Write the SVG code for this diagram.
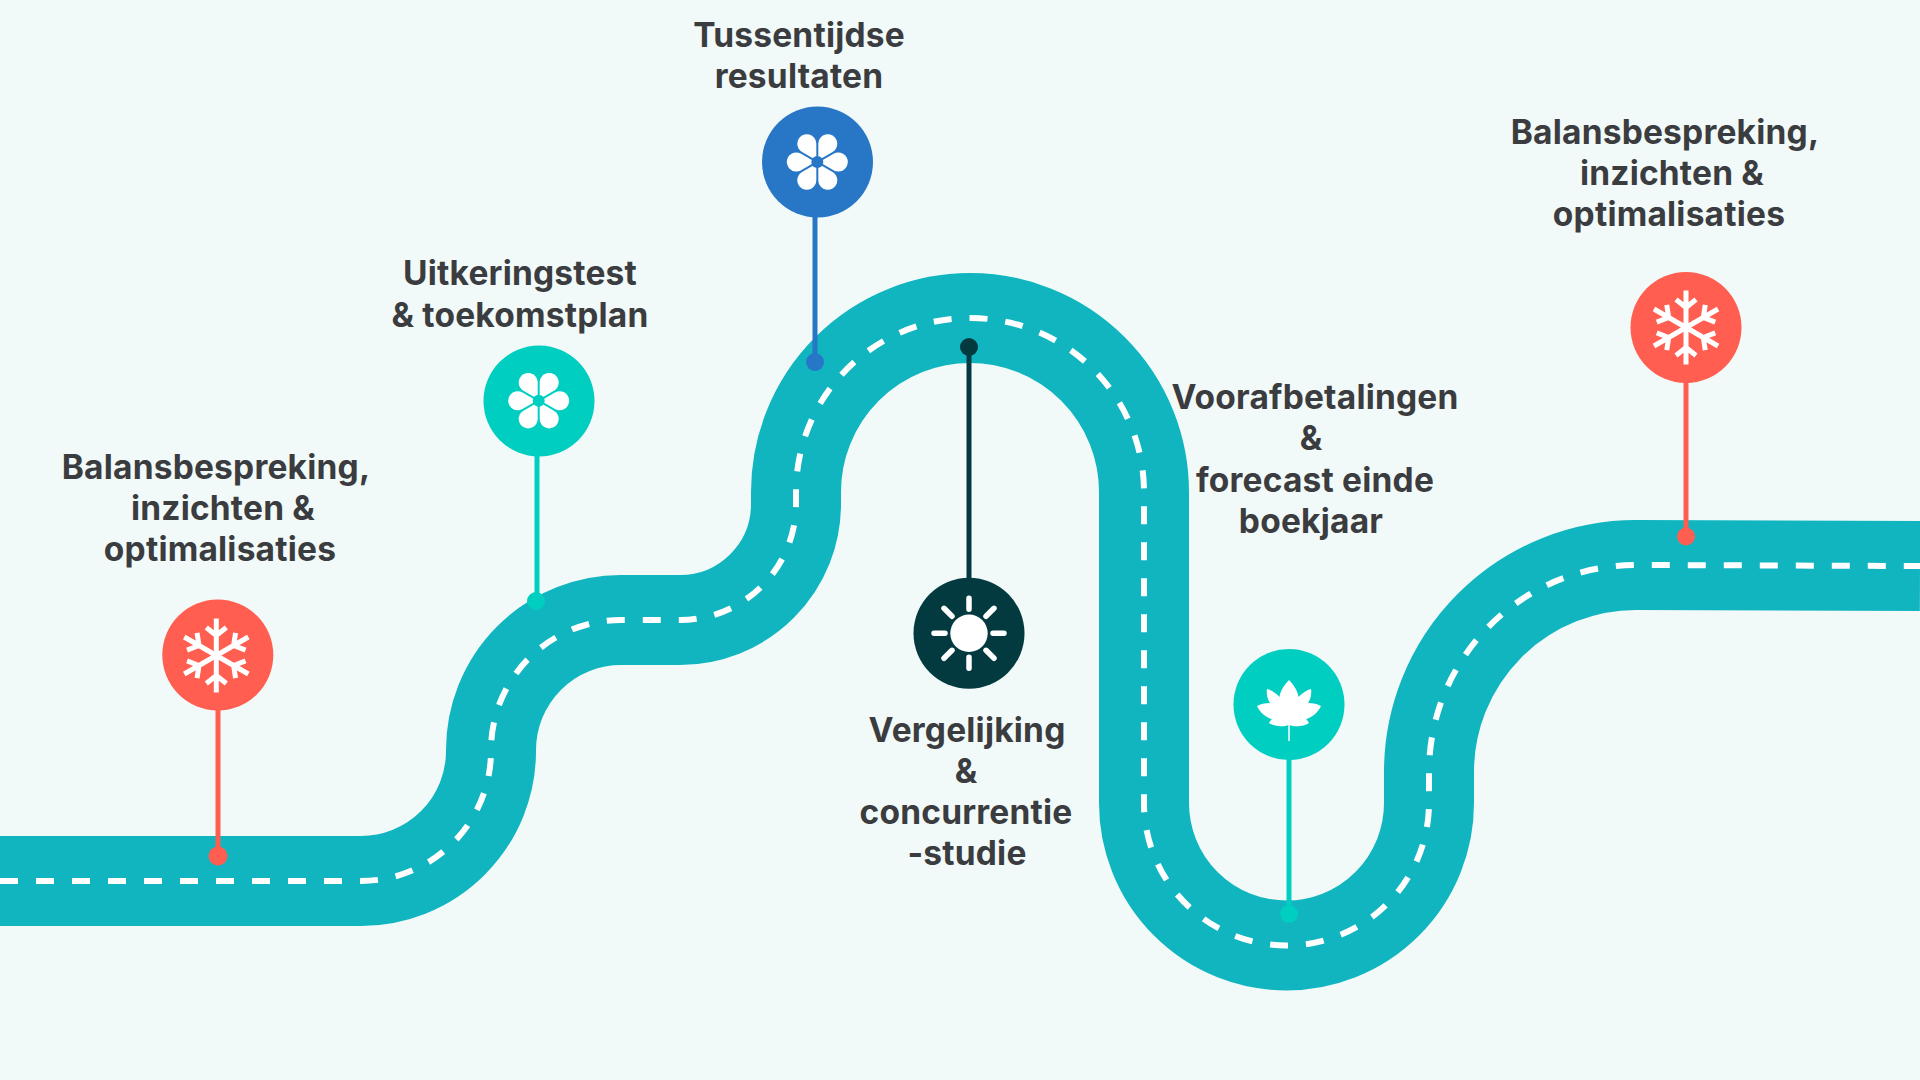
<svg xmlns="http://www.w3.org/2000/svg" width="1920" height="1080" viewBox="0 0 1920 1080">
<style>
text{font-family:"Inter","Liberation Sans",sans-serif;font-weight:700;font-size:33.5px;letter-spacing:.2px;fill:#3b3c40;text-anchor:middle}
.road{fill:none;stroke:#11b5c0;stroke-width:90}
.dash{fill:none;stroke:#fff;stroke-width:6;stroke-dasharray:18 18}
.ic{fill:#fff}
.sn{stroke:#fff;stroke-width:5;fill:none}
.ray{stroke:#fff;stroke-width:5.5;stroke-linecap:round}
.coral{fill:#ff5e50}.teal{fill:#00cec0}.blue{fill:#2777c6}.dark{fill:#023a40}
.lc{stroke:#ff5e50}.lt{stroke:#00cec0}.lb{stroke:#2777c6}.ld{stroke:#023a40}
.stem{stroke-width:5;fill:none}
</style>
<defs>
<g id="arm"><path class="sn" d="M0,0V-37M-10,-28L0,-20L10,-28"/></g>
<g id="snow"><use href="#arm"/><use href="#arm" transform="rotate(60)"/><use href="#arm" transform="rotate(120)"/><use href="#arm" transform="rotate(180)"/><use href="#arm" transform="rotate(240)"/><use href="#arm" transform="rotate(300)"/></g>
<path id="petal" class="ic" d="M2,0L16.25,-8.23A9.5,9.5 0 1 1 16.25,8.23Z"/>
<g id="flower"><use href="#petal"/><use href="#petal" transform="rotate(60)"/><use href="#petal" transform="rotate(120)"/><use href="#petal" transform="rotate(180)"/><use href="#petal" transform="rotate(240)"/><use href="#petal" transform="rotate(300)"/></g>
</defs>
<rect width="1920" height="1080" fill="#f1faf8"/>
<g id="road">
<path id="roadbed" class="road" d="M0,881H361A130,130 0 0 0 491,751V750A130,130 0 0 1 621,620H680A116,116 0 0 0 796,504V492A174,174 0 0 1 1144,492V803A142.5,142.5 0 0 0 1429,803V772A207,207 0 0 1 1636,565L1920,566"/>
<path id="roadline" class="dash" d="M0,881H361A130,130 0 0 0 491,751V750A130,130 0 0 1 621,620H680A116,116 0 0 0 796,504V492A174,174 0 0 1 1144,492V803A142.5,142.5 0 0 0 1429,803V772A207,207 0 0 1 1636,565L1920,566"/>
</g>
<g id="connectors">
<path class="stem lc" d="M218,700V856"/><circle class="coral" cx="218" cy="856" r="9.5"/>
<path class="stem lt" d="M537,450V601"/><circle class="teal" cx="536" cy="601" r="9"/>
<path class="stem lb" d="M815,210V362"/><circle class="blue" cx="815" cy="362" r="9"/>
<path class="stem ld" d="M969,347V585"/><circle class="dark" cx="969" cy="347" r="9"/>
<path class="stem lt" d="M1289,750V914"/><circle class="teal" cx="1289" cy="914" r="9"/>
<path class="stem lc" d="M1686,380V536"/><circle class="coral" cx="1686" cy="536.5" r="9"/>
</g>
<g id="node-1">
<circle class="coral" cx="217.8" cy="655" r="55.5"/>
<use href="#snow" transform="translate(216.3,655.5)"/>
<text x="216" y="479">Balansbespreking,</text><text x="223" y="520">inzichten &amp;</text><text x="220" y="561">optimalisaties</text>
</g>
<g id="node-2">
<circle class="teal" cx="539" cy="401" r="55.5"/>
<use href="#flower" transform="translate(538.7,400.7)"/><circle class="teal" cx="538.7" cy="400.7" r="6"/>
<text x="520" y="285">Uitkeringstest</text><text x="520" y="327">&amp; toekomstplan</text>
</g>
<g id="node-3">
<circle class="blue" cx="817.5" cy="162" r="55.5"/>
<use href="#flower" transform="translate(817.3,162)"/><circle class="blue" cx="817.3" cy="162" r="6"/>
<text x="799" y="47">Tussentijdse</text><text x="799" y="88">resultaten</text>
</g>
<g id="node-4">
<circle class="dark" cx="969" cy="633.3" r="55.5"/>
<circle class="ic" cx="969" cy="633.3" r="18.7"/>
<g transform="translate(969,633.3)"><path class="ray" d="M0,-24V-35M0,24V35M-24,0H-35M24,0H35M-17,-17L-25,-25M17,-17L25,-25M-17,17L-25,25M17,17L25,25"/></g>
<text x="967" y="742">Vergelijking</text><text x="966" y="783">&amp;</text><text x="966" y="824">concurrentie</text><text x="967" y="865">-studie</text>
</g>
<g id="node-5">
<circle class="teal" cx="1289" cy="704.5" r="55.5"/>
<g transform="translate(1289,705)"><path class="ic" d="M0,-25C4,-21 9,-14 9.5,-8C13,-12 18,-15 22,-16C23,-10 21,-5 19,-2C24,-2 29,-1 32,1C29,8 22,13 17,14C18,15 19,16 20,18C14,22 6,22 0,20C-6,22 -14,22 -20,18C-19,16 -18,15 -17,14C-22,13 -29,8 -32,1C-29,-1 -24,-2 -19,-2C-21,-5 -23,-10 -22,-16C-18,-15 -13,-12 -9.5,-8C-9,-14 -4,-21 0,-25Z"/><path d="M0,20V36" stroke="#fff" stroke-width="1.5"/></g>
<text x="1315" y="409">Voorafbetalingen</text><text x="1311" y="450">&amp;</text><text x="1315" y="492">forecast einde</text><text x="1311" y="533">boekjaar</text>
</g>
<g id="node-6">
<circle class="coral" cx="1686" cy="327.5" r="55.5"/>
<use href="#snow" transform="translate(1686,327.5)"/>
<text x="1665" y="144">Balansbespreking,</text><text x="1672" y="185">inzichten &amp;</text><text x="1669" y="226">optimalisaties</text>
</g>
</svg>
